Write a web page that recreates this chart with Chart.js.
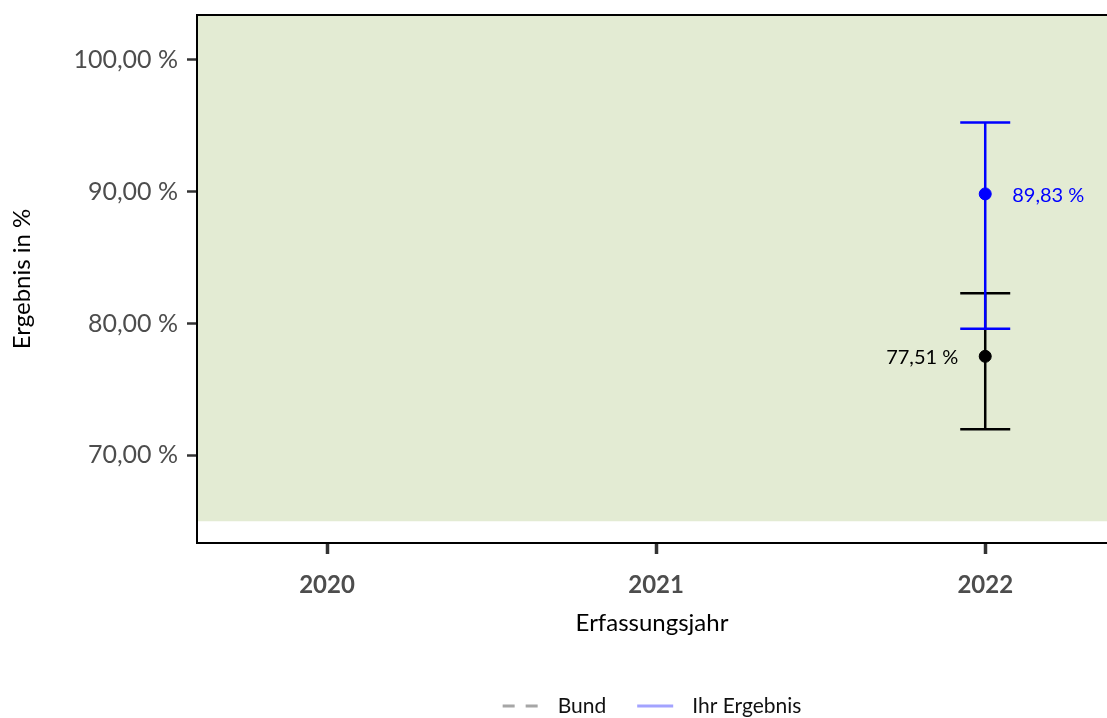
<!DOCTYPE html>
<html>
<head>
<meta charset="utf-8">
<script src="https://cdn.jsdelivr.net/npm/chart.js@4"></script>
<style>
  body { margin: 0; background: #fff; }
  #wrap { width: 1107px; height: 718px; }
</style>
</head>
<body>
<div id="wrap"><canvas id="chart" width="1107" height="718"></canvas></div>
<script>
// === DATA ===
const years = [2020, 2021, 2022];
const yTicks = [70, 80, 90, 100];

const bundValues = [null, null, 77.51];
const bundLower = [null, null, 71.97];
const bundUpper = [null, null, 82.30];

const ihrValues = [null, null, 89.83];
const ihrLower = [null, null, 79.60];
const ihrUpper = [null, null, 95.25];

const referenceMin = 65; // lower edge of the green band

const FONT = "Lato, 'Open Sans', sans-serif";
const fmt = v => v.toFixed(2).replace('.', ',') + ' %';

const toPoints = vals => years.map((x, i) => ({ x, y: vals[i] })).filter(p => p.y !== null);

// === PLUGINS ===
const bandPlugin = {
    id: 'band',
    beforeDraw(chart) {
        const { ctx, chartArea, scales } = chart;
        const yLow = scales.y.getPixelForValue(referenceMin);
        ctx.save();
        ctx.fillStyle = '#e3ebd3';
        ctx.fillRect(chartArea.left, chartArea.top, chartArea.right - chartArea.left, yLow - chartArea.top);
        ctx.restore();
    },
    afterDraw(chart) {
        // top frame line
        const { ctx, chartArea } = chart;
        ctx.save();
        ctx.strokeStyle = '#000';
        ctx.lineWidth = 2;
        ctx.beginPath();
        ctx.moveTo(chartArea.left, chartArea.top);
        ctx.lineTo(chartArea.right, chartArea.top);
        ctx.stroke();
        ctx.restore();
    }
};

const errorBarPlugin = {
    id: 'errorBars',
    beforeDatasetsDraw(chart) {
        const { ctx, scales } = chart;
        const series = [
            { lo: bundLower, hi: bundUpper, color: '#000000' },
            { lo: ihrLower, hi: ihrUpper, color: '#0000ff' }
        ];
        ctx.save();
        ctx.lineWidth = 2.5;
        series.forEach(s => {
            ctx.strokeStyle = s.color;
            years.forEach((yr, i) => {
                if (s.lo[i] === null) return;
                const x = scales.x.getPixelForValue(yr);
                const y1 = scales.y.getPixelForValue(s.lo[i]);
                const y2 = scales.y.getPixelForValue(s.hi[i]);
                ctx.beginPath();
                ctx.moveTo(x, y1); ctx.lineTo(x, y2);
                ctx.moveTo(x - 25, y1); ctx.lineTo(x + 25, y1);
                ctx.moveTo(x - 25, y2); ctx.lineTo(x + 25, y2);
                ctx.stroke();
            });
        });
        ctx.restore();
    },
    afterDatasetsDraw(chart) {
        const { ctx } = chart;
        ctx.save();
        ctx.font = `20px ${FONT}`;
        ctx.textBaseline = 'middle';
        // Bund label left of point, Ihr Ergebnis label right of point
        const bund = chart.getDatasetMeta(0).data;
        const bundPts = toPoints(bundValues);
        bund.forEach((el, k) => {
            ctx.fillStyle = '#000';
            ctx.textAlign = 'right';
            ctx.fillText(fmt(bundPts[k].y), el.x - 27, el.y + 1);
        });
        const ihr = chart.getDatasetMeta(1).data;
        const ihrPts = toPoints(ihrValues);
        ihr.forEach((el, k) => {
            ctx.fillStyle = '#0000ff';
            ctx.textAlign = 'left';
            ctx.fillText(fmt(ihrPts[k].y), el.x + 27, el.y + 2);
        });
        ctx.restore();
    }
};

const legendPlugin = {
    id: 'lineLegend',
    afterDraw(chart) {
        const { ctx, chartArea } = chart;
        const items = [
            { text: 'Bund', color: '#a6a6a6', dash: [12, 11] },
            { text: 'Ihr Ergebnis', color: '#a3a3ff', dash: [] }
        ];
        ctx.save();
        ctx.font = `21px ${FONT}`;
        const lineW = 36, gap = 19, spacing = 31;
        let total = 0;
        items.forEach((it, i) => {
            it.w = ctx.measureText(it.text).width;
            total += lineW + gap + it.w + (i ? spacing : 0);
        });
        let x = (chartArea.left + chartArea.right) / 2 - total / 2;
        const y = 706;
        items.forEach(it => {
            ctx.strokeStyle = it.color;
            ctx.lineWidth = 3;
            ctx.setLineDash(it.dash);
            ctx.beginPath();
            ctx.moveTo(x, y); ctx.lineTo(x + lineW, y);
            ctx.stroke();
            ctx.setLineDash([]);
            ctx.fillStyle = '#111';
            ctx.textAlign = 'left';
            ctx.textBaseline = 'middle';
            ctx.fillText(it.text, x + lineW + gap, y);
            x += lineW + gap + it.w + spacing;
        });
        ctx.restore();
    }
};

// === CHART ===
new Chart(document.getElementById('chart'), {
    type: 'scatter',
    data: {
        datasets: [
            { label: 'Bund', data: toPoints(bundValues), backgroundColor: '#000', borderColor: '#000', pointRadius: 6, pointHoverRadius: 6 },
            { label: 'Ihr Ergebnis', data: toPoints(ihrValues), backgroundColor: '#0000ff', borderColor: '#0000ff', pointRadius: 6, pointHoverRadius: 6 }
        ]
    },
    options: {
        responsive: false,
        animation: false,
        layout: { autoPadding: false, padding: { top: 15, right: 0, bottom: 23, left: 0 } },
        plugins: { legend: { display: false }, tooltip: { enabled: false } },
        scales: {
            x: {
                type: 'linear',
                min: 2019.605, max: 2022.37,
                afterBuildTicks: s => { s.ticks = years.map(v => ({ value: v })); },
                afterFit: s => { s.height = 152; s.paddingLeft = 0; s.paddingRight = 0; },
                ticks: { color: '#4d4d4d', font: { family: FONT, size: 24, weight: 'bold' }, padding: 17, callback: v => String(v) },
                grid: { drawOnChartArea: false, tickLength: 11, tickWidth: 3.5, tickColor: '#333' },
                border: { color: '#000', width: 2 },
                title: { display: true, text: 'Erfassungsjahr', color: '#000', font: { family: FONT, size: 24 }, padding: { top: 0, bottom: 57 } }
            },
            y: {
                min: 63.35, max: 103.4,
                afterBuildTicks: s => { s.ticks = yTicks.map(v => ({ value: v })); },
                afterFit: s => { s.width = 197; s.paddingTop = 0; s.paddingBottom = 0; },
                ticks: { color: '#4d4d4d', font: { family: FONT, size: 25 }, padding: 9, callback: v => fmt(v) },
                grid: { drawOnChartArea: false, tickLength: 10, tickWidth: 2.5, tickColor: '#333' },
                border: { color: '#000', width: 2 },
                title: { display: true, text: 'Ergebnis in %', color: '#000', font: { family: FONT, size: 24 }, padding: { top: 8, bottom: 0 } }
            }
        }
    },
    plugins: [bandPlugin, errorBarPlugin, legendPlugin]
});
</script>
</body>
</html>
